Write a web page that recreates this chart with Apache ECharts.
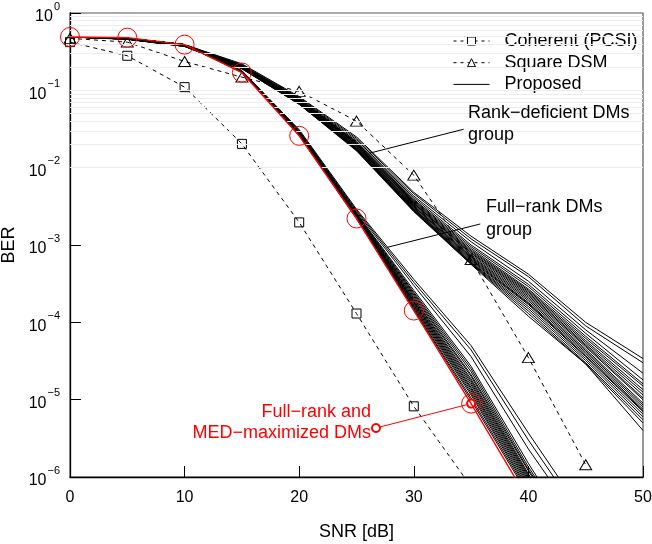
<!DOCTYPE html>
<html>
<head>
<meta charset="utf-8">
<script src="https://cdn.jsdelivr.net/npm/echarts@6/dist/echarts.min.js"></script>
<style>
  html, body { margin: 0; padding: 0; background: #fff; }
  #chart { width: 652px; height: 544px; }
</style>
</head>
<body>
<div id="chart"></div>
<script>
// SNR grid (dB) of the simulated points
const snr = [0, 5, 10, 15, 20, 25, 30, 35, 40, 45, 50];

// Benchmarks
const coherentBER = [0.42, 0.28, 0.11, 0.0203, 1.96e-3, 1.3e-4, 8.2e-6, 7.5e-7];
const squareDsmBER = [0.47, 0.42, 0.236, 0.148, 0.097, 0.040, 8.0e-3, 6.5e-4, 3.5e-5, 1.44e-6];

// Proposed: full-rank, MED-maximized DMs
const medMaxBER = [0.49, 0.48, 0.39, 0.17, 0.0258, 2.2e-3, 1.42e-4, 8.9e-6, 5.0e-7];

// Proposed: rank-deficient DMs (0 ... 50 dB)
const rankDeficientBER = [
  [0.50, 0.47, 0.39, 0.220, 0.083, 0.0250, 4.8e-3, 1.30e-3, 4.2e-4, 1.00e-4, 3.4e-5],
  [0.49, 0.47, 0.39, 0.215, 0.081, 0.0240, 4.6e-3, 1.20e-3, 3.9e-4, 9.0e-5, 3.0e-5],
  [0.49, 0.47, 0.39, 0.210, 0.079, 0.0230, 4.3e-3, 1.10e-3, 3.4e-4, 8.0e-5, 2.2e-5],
  [0.49, 0.47, 0.385, 0.210, 0.078, 0.0220, 4.1e-3, 1.00e-3, 3.1e-4, 7.2e-5, 1.8e-5],
  [0.49, 0.47, 0.385, 0.205, 0.077, 0.0215, 3.9e-3, 9.5e-4, 2.9e-4, 6.6e-5, 1.6e-5],
  [0.49, 0.465, 0.385, 0.205, 0.076, 0.0210, 3.8e-3, 9.0e-4, 2.7e-4, 6.2e-5, 1.5e-5],
  [0.49, 0.465, 0.385, 0.205, 0.076, 0.0210, 3.7e-3, 8.6e-4, 2.6e-4, 5.8e-5, 1.35e-5],
  [0.49, 0.465, 0.38, 0.200, 0.075, 0.0205, 3.6e-3, 8.3e-4, 2.5e-4, 5.5e-5, 1.25e-5],
  [0.49, 0.465, 0.38, 0.200, 0.074, 0.0200, 3.5e-3, 8.0e-4, 2.4e-4, 5.2e-5, 1.15e-5],
  [0.49, 0.465, 0.38, 0.200, 0.074, 0.0200, 3.45e-3, 7.8e-4, 2.3e-4, 5.0e-5, 1.05e-5],
  [0.49, 0.465, 0.38, 0.200, 0.073, 0.0195, 3.4e-3, 7.5e-4, 2.2e-4, 4.8e-5, 1.0e-5],
  [0.49, 0.46, 0.38, 0.198, 0.072, 0.0190, 3.3e-3, 7.2e-4, 2.1e-4, 4.5e-5, 9.0e-6],
  [0.49, 0.46, 0.38, 0.197, 0.072, 0.0190, 3.2e-3, 7.0e-4, 2.0e-4, 4.3e-5, 8.5e-6],
  [0.49, 0.46, 0.375, 0.196, 0.071, 0.0185, 3.15e-3, 6.8e-4, 1.9e-4, 4.1e-5, 8.0e-6],
  [0.49, 0.46, 0.375, 0.195, 0.070, 0.0180, 3.1e-3, 6.6e-4, 1.8e-4, 3.9e-5, 7.5e-6],
  [0.49, 0.46, 0.375, 0.195, 0.070, 0.0180, 3.0e-3, 6.4e-4, 1.75e-4, 3.7e-5, 7.2e-6],
  [0.49, 0.46, 0.375, 0.194, 0.069, 0.0178, 2.95e-3, 6.2e-4, 1.7e-4, 3.6e-5, 7.0e-6],
  [0.49, 0.46, 0.375, 0.194, 0.069, 0.0175, 2.9e-3, 6.0e-4, 1.6e-4, 3.4e-5, 6.5e-6],
  [0.49, 0.46, 0.37, 0.193, 0.068, 0.0173, 2.85e-3, 5.9e-4, 1.5e-4, 3.2e-5, 6.0e-6],
  [0.49, 0.46, 0.37, 0.192, 0.067, 0.0170, 2.8e-3, 5.8e-4, 1.4e-4, 3.0e-5, 5.5e-6],
  [0.49, 0.46, 0.37, 0.190, 0.066, 0.0168, 2.75e-3, 5.7e-4, 1.3e-4, 2.9e-5, 5.0e-6],
  [0.49, 0.455, 0.37, 0.190, 0.066, 0.0165, 2.7e-3, 5.6e-4, 1.2e-4, 2.9e-5, 4.0e-6]
];

// Proposed: full-rank DMs (0 ... 45 dB)
const fullRankBER = [
  [0.49, 0.47, 0.39, 0.180, 0.0310, 2.9e-3, 3.6e-4, 5.0e-5, 3.7e-6, 3.0e-7],
  [0.49, 0.47, 0.39, 0.179, 0.0300, 2.8e-3, 3.3e-4, 4.4e-5, 3.0e-6, 2.5e-7],
  [0.49, 0.47, 0.39, 0.178, 0.0300, 2.7e-3, 3.0e-4, 3.6e-5, 2.3e-6, 2.0e-7],
  [0.49, 0.47, 0.39, 0.177, 0.0290, 2.6e-3, 2.6e-4, 2.7e-5, 1.5e-6, 1.0e-7],
  [0.49, 0.47, 0.39, 0.176, 0.0290, 2.55e-3, 2.45e-4, 2.5e-5, 1.35e-6, 1.0e-7],
  [0.49, 0.47, 0.39, 0.176, 0.0288, 2.5e-3, 2.35e-4, 2.3e-5, 1.25e-6, 1.0e-7],
  [0.49, 0.47, 0.39, 0.175, 0.0285, 2.45e-3, 2.25e-4, 2.1e-5, 1.2e-6, 8.0e-8],
  [0.49, 0.47, 0.39, 0.175, 0.0283, 2.42e-3, 2.15e-4, 2.0e-5, 1.1e-6, 8.0e-8],
  [0.49, 0.47, 0.39, 0.174, 0.0280, 2.4e-3, 2.05e-4, 1.85e-5, 1.05e-6, 7.0e-8],
  [0.49, 0.47, 0.39, 0.174, 0.0278, 2.37e-3, 1.98e-4, 1.75e-5, 1.0e-6, 7.0e-8],
  [0.49, 0.47, 0.39, 0.174, 0.0276, 2.34e-3, 1.9e-4, 1.65e-5, 9.5e-7, 6.0e-8],
  [0.49, 0.47, 0.39, 0.173, 0.0274, 2.32e-3, 1.85e-4, 1.55e-5, 9.0e-7, 6.0e-8],
  [0.49, 0.47, 0.39, 0.173, 0.0272, 2.3e-3, 1.8e-4, 1.45e-5, 8.5e-7, 5.0e-8],
  [0.49, 0.47, 0.39, 0.173, 0.0270, 2.28e-3, 1.74e-4, 1.38e-5, 8.0e-7, 5.0e-8],
  [0.49, 0.47, 0.39, 0.172, 0.0268, 2.26e-3, 1.68e-4, 1.3e-5, 7.5e-7, 4.0e-8],
  [0.49, 0.47, 0.39, 0.172, 0.0266, 2.24e-3, 1.62e-4, 1.22e-5, 7.0e-7, 4.0e-8],
  [0.49, 0.47, 0.39, 0.172, 0.0264, 2.22e-3, 1.56e-4, 1.15e-5, 6.6e-7, 4.0e-8],
  [0.49, 0.47, 0.39, 0.171, 0.0262, 2.2e-3, 1.5e-4, 1.05e-5, 6.2e-7, 3.0e-8],
  [0.49, 0.47, 0.39, 0.171, 0.0260, 2.2e-3, 1.46e-4, 9.8e-6, 5.8e-7, 3.0e-8]
];

// ---- helpers -------------------------------------------------------------
const FONT = 'Liberation Sans';
const pairs = (ys) => ys.map((y, i) => [snr[i], y]);

// faint horizontal grid at every 1..9 x 10^k
const gridValues = [];
for (let k = -6; k <= -1; k++) {
  for (let m = 1; m <= 9; m++) gridValues.push(+(m * Math.pow(10, k)).toPrecision(3));
}

// annotation pointers (data coordinates)
const rankPointer = [[34.35, 0.0314], [26.14, 0.0154]];
const fullPointer = [[35.8, 1.87e-3], [27.66, 9.3e-4]];
const medPointer = [[26.7, 4.3e-6], [35, 8.9e-6]];

const blackLine = { color: '#000', width: 1, type: 'solid' };
const hollow = { color: 'rgba(255,255,255,0)', borderColor: '#000', borderWidth: 1 };
const series = [];

// gridlines (drawn beneath everything)
series.push({
  type: 'line', name: '_grid', data: [], silent: true, z: 0,
  markLine: {
    silent: true, symbol: 'none', animation: false,
    label: { show: false },
    lineStyle: { color: '#ededed', width: 1, type: 'solid' },
    data: gridValues.map(v => ({ yAxis: v }))
  }
});

series.push({
  type: 'line', name: 'Coherent (PCSI)', data: pairs(coherentBER), z: 3,
  symbol: 'rect', symbolSize: 9,
  lineStyle: { color: '#000', width: 1, type: [4, 4] },
  itemStyle: hollow
});
series.push({
  type: 'line', name: 'Square DSM', data: pairs(squareDsmBER), z: 3,
  symbol: 'triangle', symbolSize: [12, 10],
  lineStyle: { color: '#000', width: 1, type: [4, 4] },
  itemStyle: hollow
});

rankDeficientBER.forEach((ys, i) => {
  const s = {
    type: 'line', name: 'Proposed', data: pairs(ys), z: 4,
    symbol: 'none', lineStyle: blackLine, itemStyle: { color: '#000' }
  };
  if (i === 0) {
    s.markLine = {
      silent: true, symbol: 'none', animation: false, label: { show: false },
      lineStyle: { color: '#000', width: 1, type: 'solid' },
      data: [
        [{ coord: rankPointer[0] }, { coord: rankPointer[1] }],
        [{ coord: fullPointer[0] }, { coord: fullPointer[1] }]
      ]
    };
  }
  series.push(s);
});
fullRankBER.forEach((ys) => {
  series.push({
    type: 'line', name: 'Proposed', data: pairs(ys), z: 4,
    symbol: 'none', lineStyle: blackLine, itemStyle: { color: '#000' }
  });
});

series.push({
  type: 'line', name: 'Full-rank and MED-maximized DMs', data: pairs(medMaxBER), z: 6,
  symbol: 'circle', symbolSize: 19,
  lineStyle: { color: '#ff0000', width: 1.4, type: 'solid' },
  itemStyle: { color: 'rgba(255,255,255,0)', borderColor: '#ff0000', borderWidth: 1 },
  markLine: {
    silent: true, animation: false, label: { show: false },
    symbol: ['emptyCircle', 'emptyCircle'], symbolSize: [8, 11],
    lineStyle: { color: '#ff0000', width: 1, type: 'solid' },
    data: [[{ coord: medPointer[0] }, { coord: medPointer[1] }]]
  }
});

const supMinus = (e) => (e < 0 ? '\u2212' + (-e) : String(e));

const option = {
  animation: false,
  backgroundColor: '#fff',
  textStyle: { fontFamily: FONT },
  grid: {
    left: 70, top: 13, right: 9, bottom: 67,
    containLabel: false, outerBoundsMode: 'none',
    show: true, borderColor: '#555', borderWidth: 1.2, backgroundColor: 'transparent'
  },
  legend: {
    data: [
      { name: 'Coherent (PCSI)', itemStyle: { color: '#fff', borderColor: '#000', borderWidth: 1 },
        lineStyle: { color: '#000', width: 1, type: [3, 4] } },
      { name: 'Square DSM', itemStyle: { color: '#fff', borderColor: '#000', borderWidth: 1 },
        lineStyle: { color: '#000', width: 1, type: [3, 4] } },
      { name: 'Proposed', itemStyle: { opacity: 0 },
        lineStyle: { color: '#000', width: 1, type: 'solid', opacity: 1 } }
    ],
    orient: 'vertical', left: 448, top: 26,
    itemWidth: 36, itemHeight: 10, itemGap: 1.7,
    selectedMode: false,
    textStyle: { fontFamily: FONT, fontSize: 18, color: '#000', lineHeight: 20, padding: [0, 0, 0, 10] }
  },
  xAxis: {
    type: 'value', min: 0, max: 50, interval: 10,
    name: 'SNR [dB]', nameLocation: 'middle', nameGap: 46,
    nameTextStyle: { fontFamily: FONT, fontSize: 18, color: '#000' },
    axisLine: { show: true, lineStyle: { color: '#000', width: 1.3 } },
    axisTick: { show: true, inside: true, length: 11, lineStyle: { color: '#000', width: 1 } },
    axisLabel: { fontFamily: FONT, fontSize: 16, color: '#000', margin: 13 },
    splitLine: { show: false }
  },
  yAxis: {
    type: 'log', logBase: 10, min: 1e-6, max: 1, interval: 1,
    name: 'BER', nameLocation: 'middle', nameGap: 46, nameRotate: 90,
    nameTextStyle: { fontFamily: FONT, fontSize: 18, color: '#000' },
    axisLine: { show: true, lineStyle: { color: '#000', width: 1.3 } },
    axisTick: { show: true, inside: true, length: 11, lineStyle: { color: '#000', width: 1 } },
    axisLabel: {
      margin: 10, color: '#000',
      formatter: (v) => {
        const e = Math.round(Math.log10(v));
        return '{b|10}{s|' + supMinus(e) + '}';
      },
      rich: {
        b: { fontFamily: FONT, fontSize: 16, color: '#000', lineHeight: 24, verticalAlign: 'bottom' },
        s: { fontFamily: FONT, fontSize: 11, color: '#000', lineHeight: 24, verticalAlign: 'top', padding: [0, 0, 0, 1] }
      }
    },
    splitLine: { show: false }
  },
  graphic: [
    { type: 'text', x: 468, y: 113, z: 10, style: { text: 'Rank\u2212deficient DMs', fontFamily: FONT, fontSize: 18, fill: '#000', align: 'left', verticalAlign: 'middle' } },
    { type: 'text', x: 468, y: 135, z: 10, style: { text: 'group', fontFamily: FONT, fontSize: 18, fill: '#000', align: 'left', verticalAlign: 'middle' } },
    { type: 'text', x: 486, y: 207, z: 10, style: { text: 'Full\u2212rank DMs', fontFamily: FONT, fontSize: 18, fill: '#000', align: 'left', verticalAlign: 'middle' } },
    { type: 'text', x: 486, y: 230, z: 10, style: { text: 'group', fontFamily: FONT, fontSize: 18, fill: '#000', align: 'left', verticalAlign: 'middle' } },
    { type: 'text', x: 371, y: 412, z: 10, style: { text: 'Full\u2212rank and', fontFamily: FONT, fontSize: 18, fill: '#ff0000', align: 'right', verticalAlign: 'middle' } },
    { type: 'text', x: 371, y: 433, z: 10, style: { text: 'MED\u2212maximized DMs', fontFamily: FONT, fontSize: 18, fill: '#ff0000', align: 'right', verticalAlign: 'middle' } }
  ],
  series: series
};

const chart = echarts.init(document.getElementById('chart'), null, { renderer: 'canvas' });
chart.setOption(option);
</script>
</body>
</html>
